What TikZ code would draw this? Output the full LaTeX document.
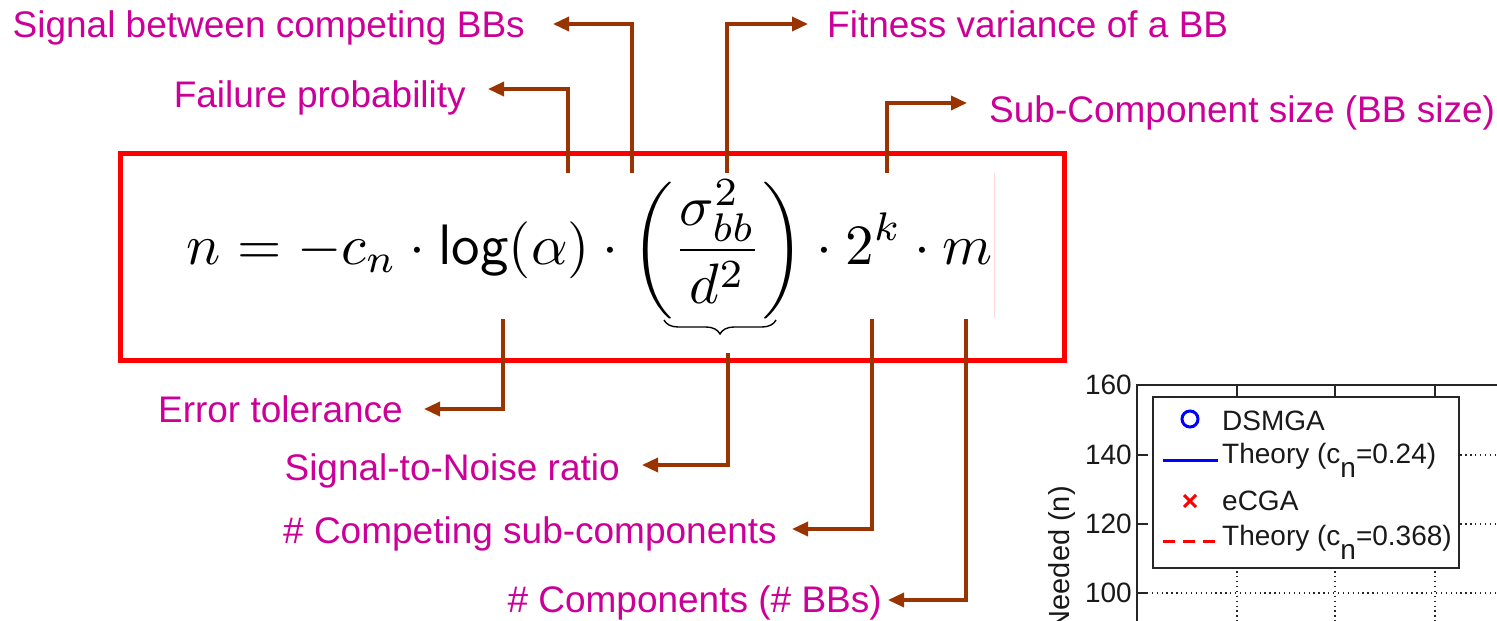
\documentclass[tikz,border=0pt]{standalone}
\usepackage{fontspec}
\usepackage{graphicx}
\usetikzlibrary{arrows.meta,decorations.pathreplacing}
\newfontfamily\lblfont{Liberation Sans}
\definecolor{brn}{HTML}{993300}
\definecolor{mag}{HTML}{CC0099}
\definecolor{blu}{HTML}{0000FF}
\begin{document}
\begin{tikzpicture}[x=1pt,y=-1pt,
  lbl/.style={font=\lblfont\fontsize{37}{44}\selectfont, text=mag, inner ysep=0pt, inner xsep=0pt, text height=26pt, text depth=0pt},
  conn/.style={draw=brn, line width=3.4pt, -{Triangle[length=16pt,width=14pt]}},
  frame/.style={draw=red, line width=5pt},
  ax/.style={draw=black!85, line width=1.5pt},
  grid/.style={draw=black!85, line width=1.3pt, dash pattern=on 1.3pt off 3.6pt},
  plt/.style={font=\lblfont\fontsize{28}{33}\selectfont, text=black!90, inner sep=0pt}]
\useasboundingbox (0,0) rectangle (1497,621);
\fill[white] (0,0) rectangle (1497,621);

% formula and frame
\node[frame, minimum width=944pt, minimum height=207pt, inner sep=0pt] (box) at (592,256.5) {};
\node[inner sep=0pt] (eq) at (590,249) {\resizebox{806pt}{!}{$\displaystyle n = -c_n \cdot \mathsf{log}(\alpha) \cdot \left(\frac{\sigma_{bb}^2}{d^2}\right) \cdot 2^k \cdot m$}};
\draw[red!15, line width=0.8pt] (994,173) -- (994,318);
\draw[line width=1.4pt, decorate, decoration={brace, mirror, amplitude=14pt}] (664,320) -- (776,320);

% labels
\node[lbl, anchor=east, inner xsep=28pt] (t1) at (553,24) {Signal between competing BBs};
\node[lbl, anchor=east, inner xsep=22pt, text height=36pt] (t2) at (488,89) {Failure probability};
\node[lbl, anchor=west, inner xsep=19pt] (t3) at (808,24) {Fitness variance of a BB};
\node[lbl, anchor=west, inner xsep=22pt, text height=38pt] (t4) at (967,103) {Sub-Component size (BB size)};
\node[lbl, anchor=east, inner xsep=21pt] (t5) at (424,409) {Error tolerance};
\node[lbl, anchor=east, inner xsep=22pt, text height=30pt] (t6) at (642,465) {Signal-to-Noise ratio};
\node[lbl, anchor=east, inner xsep=15pt, text height=28pt] (t7) at (792,529) {\# Competing sub-components};
\node[lbl, anchor=east, inner xsep=6pt, text height=24pt] (t8) at (888,600) {\# Components (\# BBs)};

% connector starts
\coordinate (f1) at (632,173);
\coordinate (f2) at (568,173);
\coordinate (f3) at (727,173);
\coordinate (f4) at (887,173);
\coordinate (f5) at (503,319);
\coordinate (f6) at (728,353);
\coordinate (f7) at (872,319);
\coordinate (f8) at (966,319);
\draw[conn] (f1) |- (t1);
\draw[conn] (f2) |- (t2);
\draw[conn] (f3) |- (t3);
\draw[conn] (f4) |- (t4);
\draw[conn] (f5) |- (t5);
\draw[conn] (f6) |- (t6);
\draw[conn] (f7) |- (t7);
\draw[conn] (f8) |- (t8);

% plot fragment
\foreach \yy in {455,524,593} \draw[grid] (1137,\yy) -- (1497,\yy);
\foreach \xx in {1237,1335,1435} \draw[grid] (\xx,385) -- (\xx,621);
\draw[ax] (1137,621) -- (1137,385) -- (1497,385);
\foreach \yy in {455,524,593} \draw[ax] (1137,\yy) -- (1148,\yy);
\foreach \xx in {1237,1335,1435} \draw[ax] (\xx,385) -- (\xx,395);
\node[plt, anchor=east] (y160) at (1132,385) {160};
\node[plt, anchor=east] (y140) at (1132,455) {140};
\node[plt, anchor=east] (y120) at (1132,524) {120};
\node[plt, anchor=east] (y100) at (1132,593) {100};
\node[plt, font=\lblfont\fontsize{29}{34}\selectfont, rotate=90, anchor=east] (ylab) at (1062,486) {Needed (n)};
\node[draw=black!85, fill=white, line width=1.5pt, minimum width=306pt, minimum height=171pt, inner sep=0pt] (leg) at (1306,482.5) {};
\draw[blu, line width=3pt] (1190,419) circle (8pt);
\node[plt, anchor=base west] (l1) at (1222,430) {DSMGA};
\draw[blu, line width=3pt] (1163,460) -- (1218,460);
\node[plt, anchor=base west] (l2) at (1222,463) {Theory (c\raisebox{-14pt}{n}=0.24)};
\draw[red, line width=3pt] (1184,495) -- (1196,507) (1184,507) -- (1196,495);
\node[plt, anchor=base west] (l3) at (1222,510) {eCGA};
\draw[red, line width=3pt, dash pattern=on 12pt off 8pt] (1163,541) -- (1218,541);
\node[plt, anchor=base west] (l4) at (1222,545) {Theory (c\raisebox{-14pt}{n}=0.368)};
\end{tikzpicture}
\end{document}
